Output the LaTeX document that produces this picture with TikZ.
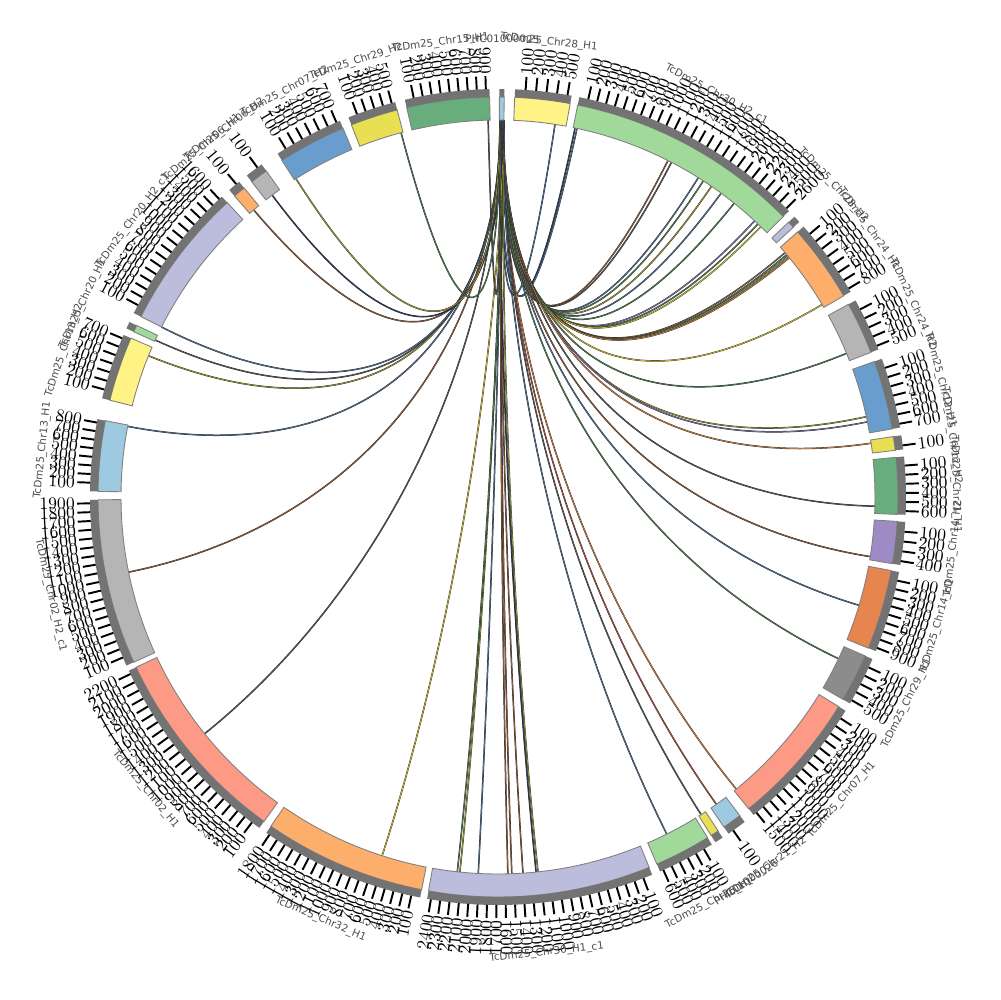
\documentclass[tikz,border=0pt]{standalone}
\usepackage{fontspec}
\usepackage{xcolor}
\usepackage{tikz}
\newfontfamily\namefont{DejaVu Sans}

% ideogram colours
\definecolor{pyellow}{HTML}{FFF385}
\definecolor{lgreen}{HTML}{A1D99B}
\definecolor{lavender}{HTML}{BCBDDC}
\definecolor{lorange}{HTML}{FDAE6B}
\definecolor{lgray}{HTML}{B5B5B5}
\definecolor{mblue}{HTML}{699DCE}
\definecolor{myellow}{HTML}{E9DF52}
\definecolor{mgreen}{HTML}{67AE7C}
\definecolor{mpurple}{HTML}{9E8AC4}
\definecolor{dorange}{HTML}{E6854F}
\definecolor{dgray}{HTML}{8C8C8C}
\definecolor{salmon}{HTML}{FC9A86}
\definecolor{lblue}{HTML}{9ECAE1}
% link colours
\definecolor{lkbrown}{HTML}{8C5A3A}
\definecolor{lkolive}{HTML}{9A9438}
\definecolor{lkslate}{HTML}{4E6C8C}
\definecolor{lkgreen}{HTML}{4C7A4E}
\definecolor{lkyellow}{HTML}{CDBB32}
\definecolor{lknavy}{HTML}{2C3A5C}
\definecolor{lkpurple}{HTML}{7A6EA6}
\definecolor{lkorange}{HTML}{C47A3E}
\definecolor{lkteal}{HTML}{3C7A7A}
\definecolor{lkred}{HTML}{A4503C}
\definecolor{lkgray}{HTML}{555555}

\tikzstyle{ideo} = [draw=black!50, line width=0.5pt]
\tikzstyle{band} = [fill=black!55]
\tikzstyle{tickmark} = [draw=black, line width=1.1pt]
\tikzstyle{ticklab} = [inner sep=0pt, font=\fontsize{10}{10}\selectfont]
\tikzstyle{chrname} = [inner sep=0pt, text=black!70, font=\namefont\fontsize{5.9}{6}\selectfont]
\tikzset{link/.style={draw=black!85, line width=0.2pt, double=#1, double distance=0.45pt}}

% #1 start, #2 end (degrees clockwise from top), #3 ticks, #4 colour, #5 label, #6 id
\newcommand{\chrom}[6]{%
  \pgfmathsetmacro{\angS}{90-#1}
  \pgfmathsetmacro{\angE}{90-#2}
  \pgfmathsetmacro{\angM}{(#1+#2)/2}
  \pgfmathsetmacro{\nrot}{ifthenelse(and(\angM>90,\angM<270),180-\angM,-\angM)}
  \draw[ideo, fill=#4] (\angS:377) arc[start angle=\angS, end angle=\angE, radius=377]
    -- (\angE:400) arc[start angle=\angE, end angle=\angS, radius=400] -- cycle;
  \fill[band] (\angS:400) arc[start angle=\angS, end angle=\angE, radius=400]
    -- (\angE:408) arc[start angle=\angE, end angle=\angS, radius=408] -- cycle;
  \ifnum#3>0
    \pgfmathsetmacro{\dstep}{(#2-#1)/(#3+0.4)}
    \foreach \k in {1,...,#3}{
      \pgfmathsetmacro{\tang}{#1+\k*\dstep}
      \pgfmathtruncatemacro{\tval}{\k*100}
      \draw[tickmark] (90-\tang:408) -- (90-\tang:421);
      \ifdim\tang pt<180pt
        \node[ticklab, anchor=west, rotate=90-\tang] (#6-\k) at (90-\tang:423) {\tval};
      \else
        \node[ticklab, anchor=east, rotate=270-\tang] (#6-\k) at (90-\tang:423) {\tval};
      \fi
    }
  \fi
  \node[chrname, rotate=\nrot] (#6) at (90-\angM:458) {#5};
}

\begin{document}
\begin{tikzpicture}[x=0.02cm, y=0.02cm]

	\useasboundingbox (-498,-503) rectangle (502,497);
	\fill[white] (-498,-503) rectangle (502,497);

	% links, all from the small contig at the top
	\foreach \dest/\col [count=\i] in {8.7/lkslate, 11.8/lknavy, 12.1/lkslate, 26.8/lkbrown, 27.4/lkgray,
		32.1/lkslate, 33.0/lkgreen, 34.5/lkolive, 36.3/lkslate, 38.8/lkgreen, 42.9/lkpurple, 43.6/lkgreen,
		44.2/lkyellow, 49.6/lkbrown, 50.0/lkteal, 50.3/lkolive, 50.6/lkorange, 59.3/lkyellow, 67.6/lkgreen,
		77.7/lkolive, 78.5/lkpurple, 81.8/lkorange, 91.4/lkgray, 99.1/lkbrown, 106.7/lkslate, 115.4/lkgreen,
		140.8/lkorange, 144.6/lkred, 147.4/lkgray, 153.4/lkslate, 173.9/lkolive, 174.2/lknavy, 176.2/lkbrown,
		177.9/lkbrown, 178.5/lkbrown, 183.0/lkslate, 185.8/lkolive, 186.2/lkgreen, 197.9/lkyellow,
		231.1/lkgray, 258.5/lkbrown, 280.8/lkslate, 292.0/lkolive, 294.6/lkgray, 296.8/lkslate,
		319.6/lkbrown, 323.2/lknavy, 327.6/lkolive, 345.1/lkgreen, 358.5/lkgray}{
		\pgfmathsetmacro{\srcang}{0.3+mod(\i,8)*0.08}
		\coordinate (src\i) at (90-\srcang:377);
		\coordinate (dst\i) at (90-\dest:377);
		\draw[link=\col] (src\i) .. controls (90-\srcang:145) and (90-\dest:145) .. (dst\i);
	}

	% ideograms
	\chrom{0.2}{0.9}{0}{lblue}{PHC01000025}{phc}
	\chrom{2.4}{10.4}{5}{pyellow}{TcDm25\_Chr28\_H1}{chr28a}
	\chrom{11.5}{45.5}{26}{lgreen}{TcDm25\_Chr30\_H2\_c1}{chr30b}
	\chrom{46.6}{47.6}{0}{lavender}{TcDm25\_Chr28\_H2}{chr28b}
	\chrom{48.5}{59.8}{8}{lorange}{TcDm25\_Chr24\_H1}{chr24a}
	\chrom{61.2}{68.8}{5}{lgray}{TcDm25\_Chr24\_H2}{chr24b}
	\chrom{70.2}{80.2}{7}{mblue}{TcDm25\_Chr12\_H1}{chr12a}
	\chrom{81.3}{83.3}{1}{myellow}{TcDm25\_Chr12\_H2}{chr12b}
	\chrom{84.3}{92.5}{6}{mgreen}{TcDm25\_Chr21\_H1}{chr21a}
	\chrom{93.5}{99.6}{4}{mpurple}{TcDm25\_Chr14\_H2}{chr14b}
	\chrom{100.6}{112.2}{9}{dorange}{TcDm25\_Chr14\_H1}{chr14a}
	\chrom{113.4}{120.4}{5}{dgray}{TcDm25\_Chr29\_H1}{chr29a}
	\chrom{121.6}{141.2}{15}{salmon}{TcDm25\_Chr07\_H1}{chr07a}
	\chrom{142.8}{145.6}{1}{lblue}{TcDm25\_Chr21\_H2}{chr21b}
	\chrom{146.6}{147.8}{0}{myellow}{PHC01000026}{phcb}
	\chrom{148.4}{156.6}{6}{lgreen}{TcDm25\_Chr26\_H1}{chr26a}
	\chrom{157.8}{190}{24}{lavender}{TcDm25\_Chr30\_H1\_c1}{chr30a}
	\chrom{191}{214.6}{18}{lorange}{TcDm25\_Chr32\_H1}{chr32a}
	\chrom{215.8}{244.8}{22}{salmon}{TcDm25\_Chr02\_H1}{chr02a}
	\chrom{245.6}{269.6}{19}{lgray}{TcDm25\_Chr02\_H2\_c1}{chr02b}
	\chrom{270.8}{281}{8}{lblue}{TcDm25\_Chr13\_H1}{chr13a}
	\chrom{284}{293.4}{7}{pyellow}{TcDm25\_Chr13\_H2}{chr13b}
	\chrom{294.4}{295.4}{0}{lgreen}{TcDm25\_Chr20\_H1}{chr20a}
	\chrom{296.8}{317.4}{16}{lavender}{TcDm25\_Chr20\_H2\_c1}{chr20b}
	\chrom{318.8}{320.6}{1}{lorange}{TcDm25\_Chr06\_H1}{chr06a}
	\chrom{322}{324.6}{1}{lgray}{TcDm25\_Chr06\_H2}{chr06b}
	\chrom{327.3}{337.2}{7}{mblue}{TcDm25\_Chr07\_H2}{chr07b}
	\chrom{338.5}{345.4}{5}{myellow}{TcDm25\_Chr29\_H2}{chr29b}
	\chrom{346.8}{358.8}{9}{mgreen}{TcDm25\_Chr15\_H1}{chr15a}

\end{tikzpicture}
\end{document}
